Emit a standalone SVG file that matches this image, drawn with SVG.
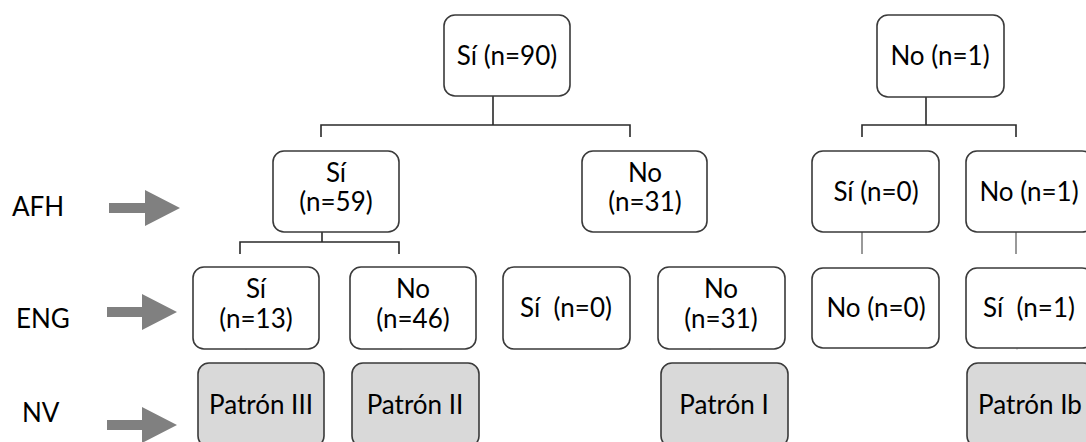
<svg xmlns="http://www.w3.org/2000/svg" width="1086" height="442" viewBox="0 0 1086 442">
<style>
.box{fill:#fff;stroke:#3a3a3a;stroke-width:1.6}
.pat{fill:#d9d9d9;stroke:#3a3a3a;stroke-width:1.6}
.t{font-family:Lato,"Liberation Sans",sans-serif;font-size:26px;fill:#000;text-anchor:middle}
.lab{font-family:Lato,"Liberation Sans",sans-serif;font-size:26px;fill:#000}
.ln{stroke:#2a2a2a;stroke-width:1.6;fill:none}
.lg{stroke:#777;stroke-width:1.5;fill:none}
.faint{stroke:#d0d0d0;stroke-width:1.2;fill:none}
.arr{fill:#808080}
</style>
<rect width="1086" height="442" fill="#fff"/>

<g id="labels">
<text class="lab" x="12" y="216">AFH</text>
<text class="lab" x="16" y="328">ENG</text>
<text class="lab" x="22" y="422">NV</text>
<polygon class="arr" points="109,203 145,203 145,190 180,208 145,226 145,213 109,213"/>
<polygon class="arr" points="107,307 142,307 142,294 177,312 142,330 142,317 107,317"/>
<polygon class="arr" points="107,420 142,420 142,407 177,425 142,443 142,430 107,430"/>
</g>

<g id="connectors">
<path class="ln" d="M493,81 V125 M321,137 V125 H630 V137"/>
<path class="ln" d="M926,81 V125 M862,137 V125 H1016 V137"/>
<path class="ln" d="M322,217 V242 M240,254 V242 H399 V254"/>
<path class="lg" d="M862,218 V254"/>
<path class="lg" d="M1016,218 V254"/>
<path class="faint" d="M246,337 V350 M401,337 V350 M710,337 V350 M1017,337 V350"/>
</g>

<g id="n_root_si"><rect class="box" x="444" y="15" width="126" height="81" rx="11"/><text class="t" x="507" y="65">Sí (n=90)</text></g>
<g id="n_root_no"><rect class="box" x="877" y="15" width="127" height="82" rx="11"/><text class="t" x="940" y="65">No (n=1)</text></g>

<g id="n_afh_si59"><rect class="box" x="273" y="151" width="126" height="81" rx="11"/><text class="t" x="336" y="182">Sí</text><text class="t" x="336" y="211">(n=59)</text></g>
<g id="n_afh_no31"><rect class="box" x="582" y="151" width="125" height="81" rx="11"/><text class="t" x="645" y="182">No</text><text class="t" x="645" y="211">(n=31)</text></g>
<g id="n_afh_si0"><rect class="box" x="812" y="151" width="127" height="81" rx="11"/><text class="t" x="876" y="201">Sí (n=0)</text></g>
<g id="n_afh_no1"><rect class="box" x="966" y="151" width="127" height="81" rx="11"/><text class="t" x="1029" y="201">No (n=1)</text></g>

<g id="n_eng_si13"><rect class="box" x="193" y="267" width="126" height="82" rx="11"/><text class="t" x="256" y="298">Sí</text><text class="t" x="256" y="328">(n=13)</text></g>
<g id="n_eng_no46"><rect class="box" x="350" y="267" width="126" height="82" rx="11"/><text class="t" x="413" y="298">No</text><text class="t" x="413" y="328">(n=46)</text></g>
<g id="n_eng_si0"><rect class="box" x="503" y="267" width="127" height="82" rx="11"/><text class="t" x="566" y="317" xml:space="preserve">Sí  (n=0)</text></g>
<g id="n_eng_no31"><rect class="box" x="658" y="267" width="127" height="82" rx="11"/><text class="t" x="721" y="298">No</text><text class="t" x="721" y="328">(n=31)</text></g>
<g id="n_eng_no0"><rect class="box" x="812" y="268" width="127" height="80" rx="11"/><text class="t" x="876" y="317">No (n=0)</text></g>
<g id="n_eng_si1"><rect class="box" x="966" y="268" width="127" height="80" rx="11"/><text class="t" x="1029" y="317" xml:space="preserve">Sí  (n=1)</text></g>

<g id="n_p3"><rect class="pat" x="198" y="363" width="126" height="84" rx="11"/><text class="t" x="261" y="414">Patrón III</text></g>
<g id="n_p2"><rect class="pat" x="352" y="363" width="127" height="84" rx="11"/><text class="t" x="415" y="414">Patrón II</text></g>
<g id="n_p1"><rect class="pat" x="661" y="363" width="127" height="84" rx="11"/><text class="t" x="724" y="414">Patrón I</text></g>
<g id="n_p1b"><rect class="pat" x="967" y="363" width="127" height="84" rx="11"/><text class="t" x="1030" y="414">Patrón Ib</text></g>
</svg>
